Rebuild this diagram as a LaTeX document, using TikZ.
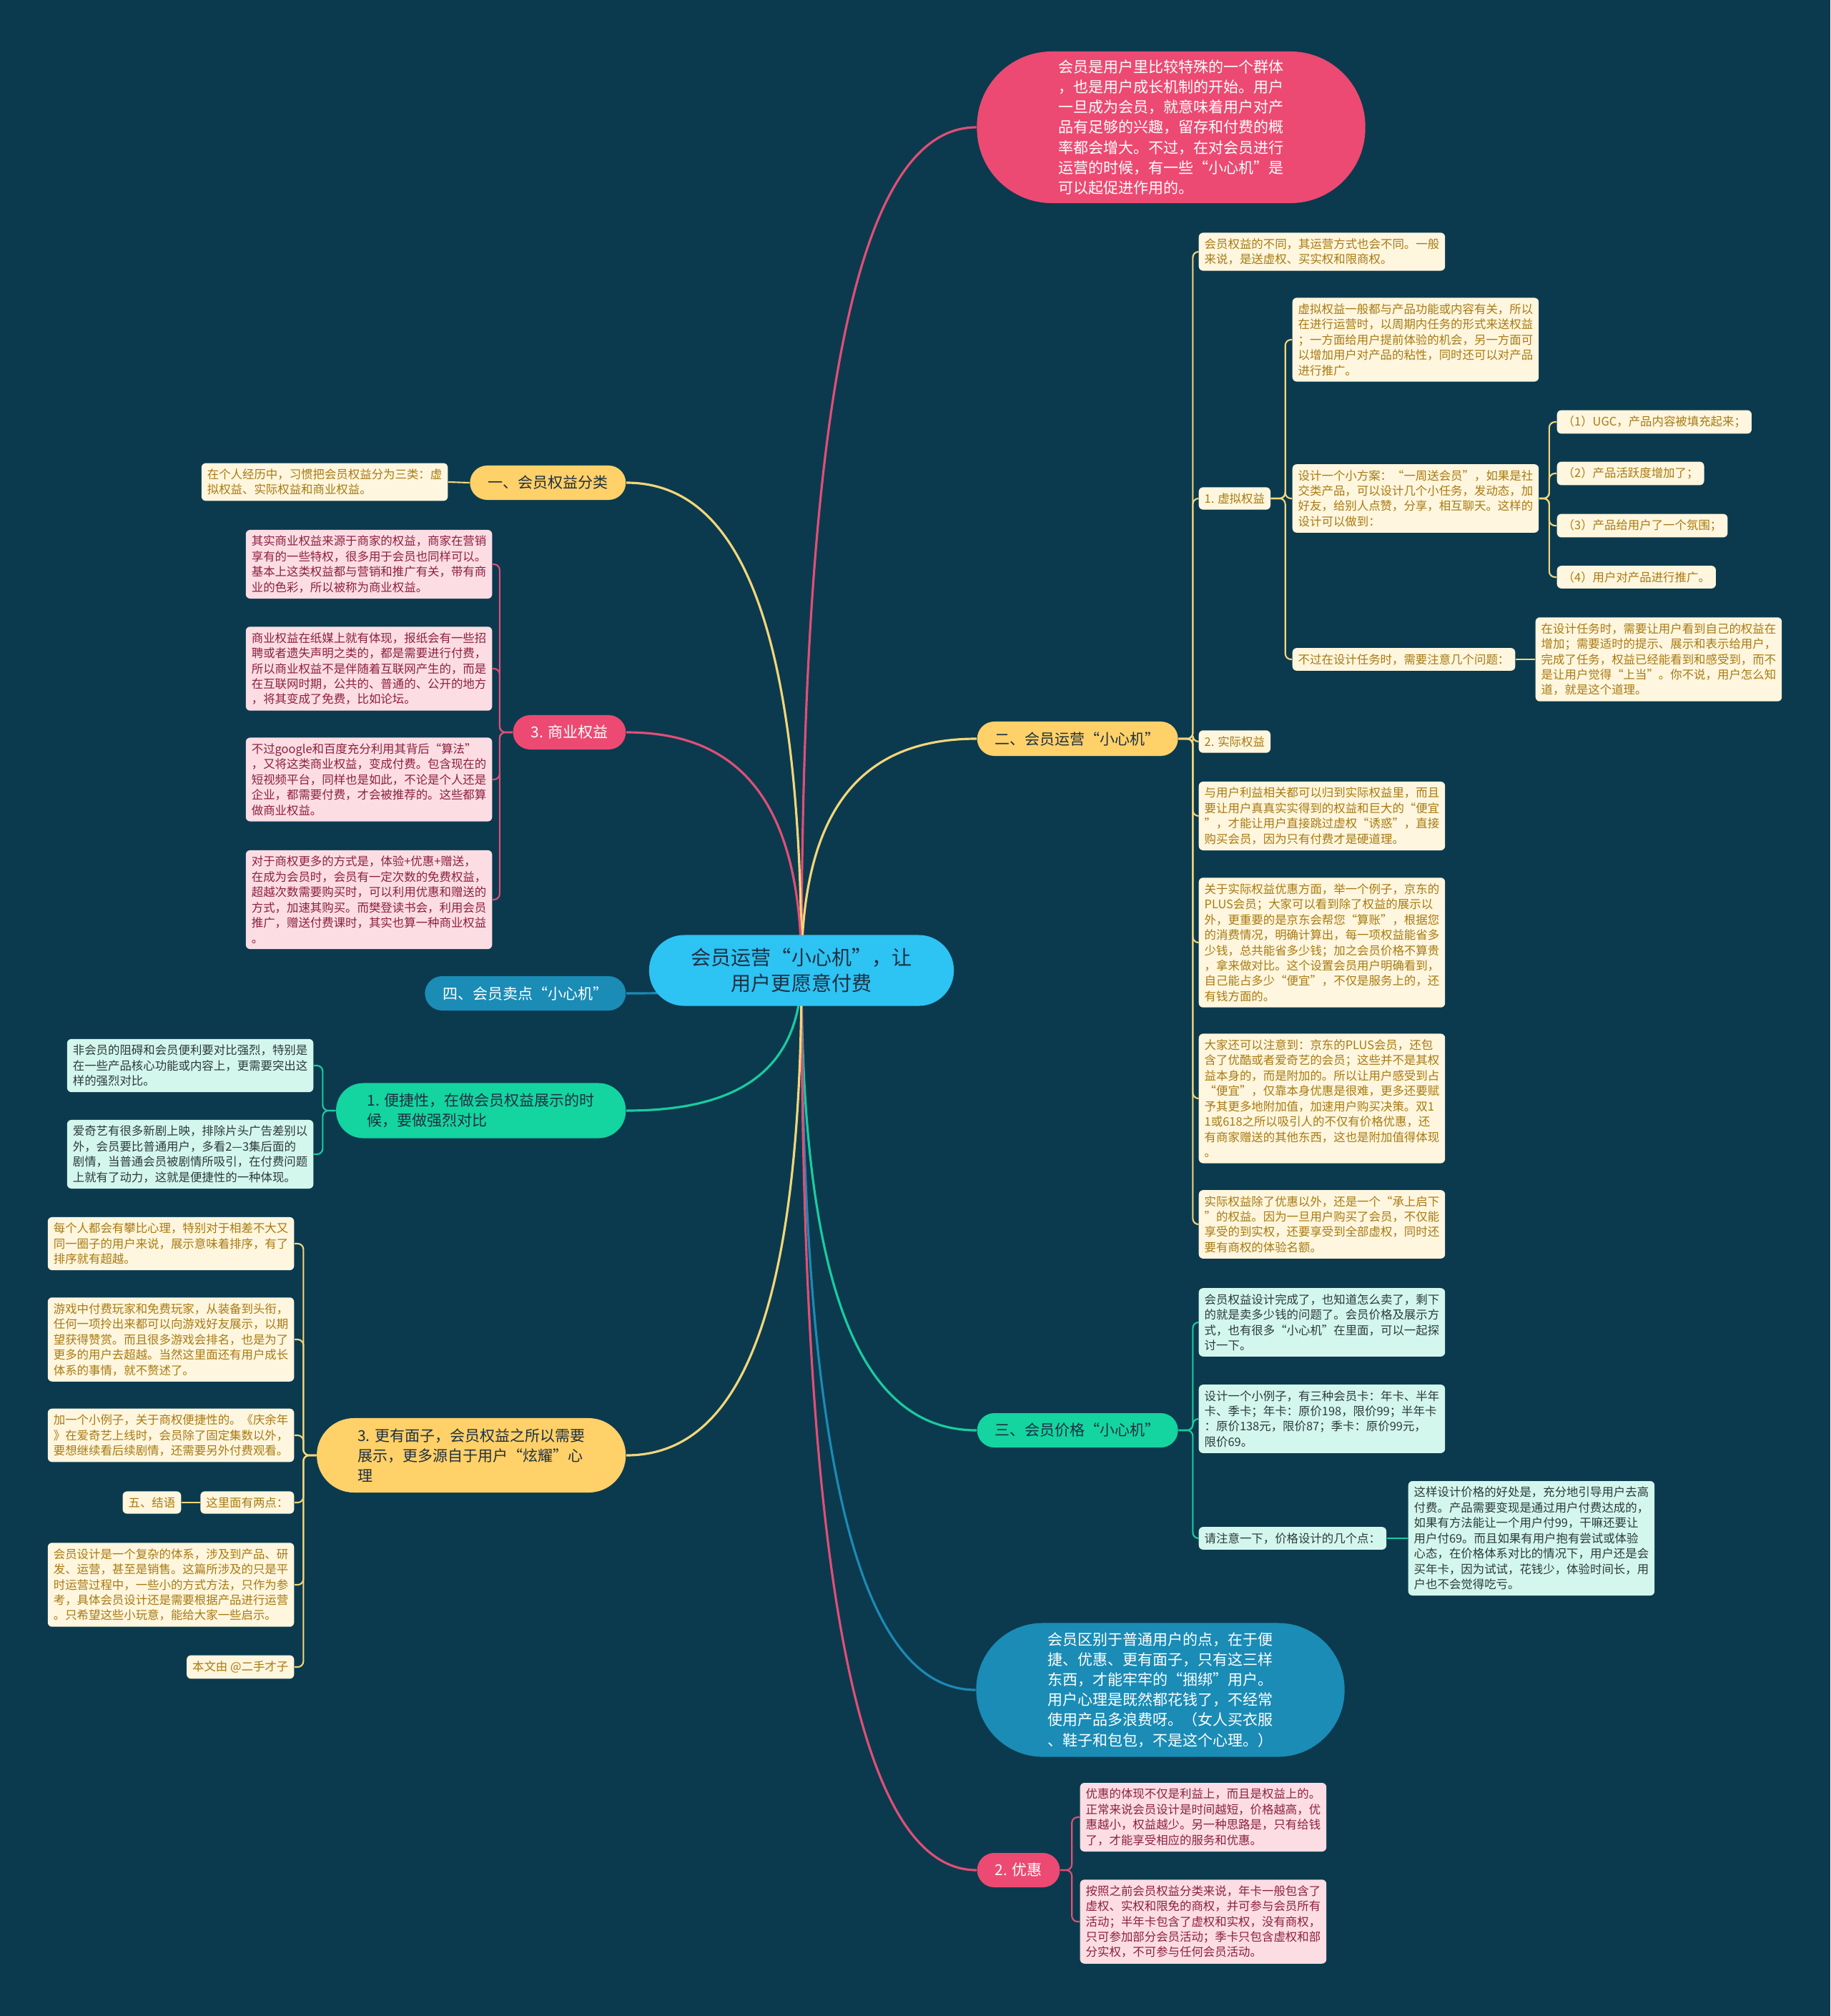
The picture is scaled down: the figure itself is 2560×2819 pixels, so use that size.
\documentclass[tikz,border=0pt]{standalone}
\usepackage{fontspec}
\setmainfont{Noto Sans CJK SC}
\usepackage{tikz}
\usetikzlibrary{calc}
\definecolor{bgc}{RGB}{11,58,78}
\definecolor{rootc}{RGB}{45,195,243}
\definecolor{inkc}{RGB}{30,48,66}
\definecolor{pinkc}{RGB}{236,74,114}
\definecolor{yelc}{RGB}{255,209,104}
\definecolor{grnc}{RGB}{20,212,160}
\definecolor{bluc}{RGB}{26,140,182}
\definecolor{yfill}{RGB}{254,246,222}
\definecolor{ytext}{RGB}{168,122,18}
\definecolor{pfill}{RGB}{252,221,228}
\definecolor{ptext}{RGB}{140,32,64}
\definecolor{gfill}{RGB}{212,247,237}
\definecolor{gtext}{RGB}{44,58,60}
\definecolor{yline}{RGB}{244,214,122}
\definecolor{pline}{RGB}{226,78,118}
\definecolor{gline}{RGB}{26,204,160}
\definecolor{bline}{RGB}{28,138,180}
\newcommand\leaffont{\fontsize{4.67pt}{6.1pt}\selectfont}
\newcommand\branchfont{\fontsize{5.97pt}{8pt}\selectfont}
\newcommand\ellfont{\fontsize{5.97pt}{8pt}\selectfont}
\newcommand\rootfont{\fontsize{7.97pt}{10.2pt}\selectfont}
\pgfdeclarelayer{bg}
\pgfdeclarelayer{edges}
\pgfsetlayers{bg,edges,main}

\begin{document}
\begin{tikzpicture}[x=0.01cm, y=-0.01cm,
    root/.style={fill=rootc, text=inkc, font=\rootfont, align=center, minimum width=4.26cm, minimum height=0.99cm, rounded corners=0.49cm},
    branch/.style={font=\branchfont, align=left, inner xsep=0.25cm, inner ysep=0pt, minimum height=0.48cm, rounded corners=0.24cm},
    ybranch/.style={branch, fill=yelc, text=inkc},
    pbranch/.style={branch, fill=pinkc, text=white},
    gbranch/.style={branch, fill=grnc, text=inkc},
    bbranch/.style={branch, fill=bluc, text=white},
    leaf/.style={font=\leaffont, align=left, inner xsep=0.08cm, inner ysep=0.08cm, rounded corners=0.06cm},
    yleaf/.style={leaf, fill=yfill, text=ytext},
    pleaf/.style={leaf, fill=pfill, text=ptext},
    gleaf/.style={leaf, fill=gfill, text=gtext},
    trunk/.style={line width=0.9pt, to path={.. controls ($(\tikztostart)!0.75!(\tikztostart|-\tikztotarget)$) and ($(\tikztotarget)!0.6!(\tikztostart|-\tikztotarget)$) .. (\tikztotarget)}},
    twig/.style={line width=0.6pt, rounded corners=0.08cm}]
  \useasboundingbox (0,0) rectangle (2560,2819);
  \begin{pgfonlayer}{bg}
    \fill[bgc] (0,0) rectangle (2560,2819);
  \end{pgfonlayer}

  \node[root] (root) at (1121,1357) {会员运营“小心机”，让\\用户更愿意付费};

  % right side
  \node[pbranch, font=\ellfont, minimum width=5.43cm, minimum height=2.12cm, rounded corners=1.05cm] (intro) at (1638,178) {会员是用户里比较特殊的一个群体\\，也是用户成长机制的开始。用户\\一旦成为会员，就意味着用户对产\\品有足够的兴趣，留存和付费的概\\率都会增大。不过，在对会员进行\\运营的时候，有一些“小心机”是\\可以起促进作用的。};
  \node[ybranch, anchor=west] (ops) at (1366,1033) {二、会员运营“小心机”};
  \node[gbranch, anchor=west] (price) at (1366,2000) {三、会员价格“小心机”};
  \node[bbranch, font=\ellfont, minimum width=5.15cm, minimum height=1.87cm, rounded corners=0.93cm] (bind) at (1623,2363) {会员区别于普通用户的点，在于便\\捷、优惠、更有面子，只有这三样\\东西，才能牢牢的“捆绑”用户。\\用户心理是既然都花钱了，不经常\\使用产品多浪费呀。（女人买衣服\\、鞋子和包包，不是这个心理。）};
  \node[pbranch, anchor=west] (disc) at (1366,2615) {2. 优惠};

  \node[yleaf, anchor=west] (opsA) at (1676,352) {会员权益的不同，其运营方式也会不同。一般\\来说，是送虚权、买实权和限商权。};
  \node[yleaf, anchor=west] (virt) at (1676,697) {1. 虚拟权益};
  \node[yleaf, anchor=west] (virtA) at (1807,475) {虚拟权益一般都与产品功能或内容有关，所以\\在进行运营时，以周期内任务的形式来送权益\\；一方面给用户提前体验的机会，另一方面可\\以增加用户对产品的粘性，同时还可以对产品\\进行推广。};
  \node[yleaf, anchor=west] (virtB) at (1807,697) {设计一个小方案：“一周送会员”，如果是社\\交类产品，可以设计几个小任务，发动态，加\\好友，给别人点赞，分享，相互聊天。这样的\\设计可以做到：};
  \node[yleaf, anchor=west] (gain1) at (2177,590) {（1）UGC，产品内容被填充起来；};
  \node[yleaf, anchor=west] (gain2) at (2177,662) {（2）产品活跃度增加了；};
  \node[yleaf, anchor=west] (gain3) at (2177,735) {（3）产品给用户了一个氛围；};
  \node[yleaf, anchor=west] (gain4) at (2177,807) {（4）用户对产品进行推广。};
  \node[yleaf, anchor=west] (virtC) at (1807,922) {不过在设计任务时，需要注意几个问题：};
  \node[yleaf, anchor=west] (virtD) at (2147,922) {在设计任务时，需要让用户看到自己的权益在\\增加；需要适时的提示、展示和表示给用户，\\完成了任务，权益已经能看到和感受到，而不\\是让用户觉得“上当”。你不说，用户怎么知\\道，就是这个道理。};
  \node[yleaf, anchor=west] (real) at (1676,1037) {2. 实际权益};
  \node[yleaf, anchor=west] (realA) at (1676,1141) {与用户利益相关都可以归到实际权益里，而且\\要让用户真真实实得到的权益和巨大的“便宜\\”，才能让用户直接跳过虚权“诱惑”，直接\\购买会员，因为只有付费才是硬道理。};
  \node[yleaf, anchor=west] (realB) at (1676,1318) {关于实际权益优惠方面，举一个例子，京东的\\PLUS会员；大家可以看到除了权益的展示以\\外，更重要的是京东会帮您“算账”，根据您\\的消费情况，明确计算出，每一项权益能省多\\少钱，总共能省多少钱；加之会员价格不算贵\\，拿来做对比。这个设置会员用户明确看到，\\自己能占多少“便宜”，不仅是服务上的，还\\有钱方面的。};
  \node[yleaf, anchor=west] (realC) at (1676,1536) {大家还可以注意到：京东的PLUS会员，还包\\含了优酷或者爱奇艺的会员；这些并不是其权\\益本身的，而是附加的。所以让用户感受到占\\“便宜”，仅靠本身优惠是很难，更多还要赋\\予其更多地附加值，加速用户购买决策。双1\\1或618之所以吸引人的不仅有价格优惠，还\\有商家赠送的其他东西，这也是附加值得体现\\。};
  \node[yleaf, anchor=west] (realD) at (1676,1712) {实际权益除了优惠以外，还是一个“承上启下\\”的权益。因为一旦用户购买了会员，不仅能\\享受的到实权，还要享受到全部虚权，同时还\\要有商权的体验名额。};

  \node[gleaf, anchor=west] (priceA) at (1676,1849) {会员权益设计完成了，也知道怎么卖了，剩下\\的就是卖多少钱的问题了。会员价格及展示方\\式，也有很多“小心机”在里面，可以一起探\\讨一下。};
  \node[gleaf, anchor=west] (priceB) at (1676,1984) {设计一个小例子，有三种会员卡：年卡、半年\\卡、季卡；年卡：原价198，限价99；半年卡\\：原价138元，限价87；季卡：原价99元，\\限价69。};
  \node[gleaf, anchor=west] (priceC) at (1676,2151) {请注意一下，价格设计的几个点：};
  \node[gleaf, anchor=west] (priceD) at (1969,2151) {这样设计价格的好处是，充分地引导用户去高\\付费。产品需要变现是通过用户付费达成的，\\如果有方法能让一个用户付99，干嘛还要让\\用户付69。而且如果有用户抱有尝试或体验\\心态，在价格体系对比的情况下，用户还是会\\买年卡，因为试试，花钱少，体验时间长，用\\户也不会觉得吃亏。};

  \node[pleaf, anchor=west] (discA) at (1510,2541) {优惠的体现不仅是利益上，而且是权益上的。\\正常来说会员设计是时间越短，价格越高，优\\惠越小，权益越少。另一种思路是，只有给钱\\了，才能享受相应的服务和优惠。};
  \node[pleaf, anchor=west] (discB) at (1510,2687) {按照之前会员权益分类来说，年卡一般包含了\\虚权、实权和限免的商权，并可参与会员所有\\活动；半年卡包含了虚权和实权，没有商权，\\只可参加部分会员活动；季卡只包含虚权和部\\分实权，不可参与任何会员活动。};

  % left side
  \node[ybranch, anchor=east] (cls) at (876,675) {一、会员权益分类};
  \node[pbranch, anchor=east] (biz) at (876,1024) {3. 商业权益};
  \node[bbranch, anchor=east] (sell) at (876,1389) {四、会员卖点“小心机”};
  \node[gbranch, anchor=east, minimum width=4.05cm, minimum height=0.77cm, rounded corners=0.38cm] (quick) at (876,1553) {1. 便捷性，在做会员权益展示的时\\候，要做强烈对比};
  \node[ybranch, anchor=east, minimum width=4.32cm, minimum height=1.04cm, rounded corners=0.52cm] (face) at (876,2035) {3. 更有面子，会员权益之所以需要\\展示，更多源自于用户“炫耀”心\\理};

  \node[yleaf, anchor=east] (clsA) at (627,674) {在个人经历中，习惯把会员权益分为三类：虚\\拟权益、实际权益和商业权益。};
  \node[pleaf, anchor=east] (bizA) at (689,789) {其实商业权益来源于商家的权益，商家在营销\\享有的一些特权，很多用于会员也同样可以。\\基本上这类权益都与营销和推广有关，带有商\\业的色彩，所以被称为商业权益。};
  \node[pleaf, anchor=east] (bizB) at (689,935) {商业权益在纸媒上就有体现，报纸会有一些招\\聘或者遗失声明之类的，都是需要进行付费，\\所以商业权益不是伴随着互联网产生的，而是\\在互联网时期，公共的、普通的、公开的地方\\，将其变成了免费，比如论坛。};
  \node[pleaf, anchor=east] (bizC) at (689,1090) {不过google和百度充分利用其背后“算法”\\，又将这类商业权益，变成付费。包含现在的\\短视频平台，同样也是如此，不论是个人还是\\企业，都需要付费，才会被推荐的。这些都算\\做商业权益。};
  \node[pleaf, anchor=east] (bizD) at (689,1258) {对于商权更多的方式是，体验+优惠+赠送，\\在成为会员时，会员有一定次数的免费权益，\\超越次数需要购买时，可以利用优惠和赠送的\\方式，加速其购买。而樊登读书会，利用会员\\推广，赠送付费课时，其实也算一种商业权益\\。};
  \node[gleaf, anchor=east] (quickA) at (439,1490) {非会员的阻碍和会员便利要对比强烈，特别是\\在一些产品核心功能或内容上，更需要突出这\\样的强烈对比。};
  \node[gleaf, anchor=east] (quickB) at (439,1614) {爱奇艺有很多新剧上映，排除片头广告差别以\\外，会员要比普通用户，多看2—3集后面的\\剧情，当普通会员被剧情所吸引，在付费问题\\上就有了动力，这就是便捷性的一种体现。};
  \node[yleaf, anchor=east] (faceA) at (412,1739) {每个人都会有攀比心理，特别对于相差不大又\\同一圈子的用户来说，展示意味着排序，有了\\排序就有超越。};
  \node[yleaf, anchor=east] (faceB) at (412,1873) {游戏中付费玩家和免费玩家，从装备到头衔，\\任何一项拎出来都可以向游戏好友展示，以期\\望获得赞赏。而且很多游戏会排名，也是为了\\更多的用户去超越。当然这里面还有用户成长\\体系的事情，就不赘述了。};
  \node[yleaf, anchor=east] (faceC) at (412,2007) {加一个小例子，关于商权便捷性的。《庆余年\\》在爱奇艺上线时，会员除了固定集数以外，\\要想继续看后续剧情，还需要另外付费观看。};
  \node[yleaf, anchor=east] (faceD) at (412,2101) {这里面有两点：};
  \node[yleaf, anchor=east] (ending) at (254,2101) {五、结语};
  \node[yleaf, anchor=east] (faceE) at (412,2216) {会员设计是一个复杂的体系，涉及到产品、研\\发、运营，甚至是销售。这篇所涉及的只是平\\时运营过程中，一些小的方式方法，只作为参\\考，具体会员设计还是需要根据产品进行运营\\。只希望这些小玩意，能给大家一些启示。};
  \node[yleaf, anchor=east] (faceF) at (412,2331) {本文由 @二手才子};

  \begin{pgfonlayer}{edges}
    \draw[trunk, pline] (root.center) to (intro.west);
    \draw[trunk, yline] (root.center) to (ops.west);
    \draw[trunk, gline] (root.center) to (price.west);
    \draw[trunk, bline] (root.center) to (bind.west);
    \draw[trunk, pline] (root.center) to (disc.west);
    \draw[trunk, yline] (root.center) to (cls.east);
    \draw[trunk, pline] (root.center) to (biz.east);
    \draw[trunk, bline] (root.center) to (sell.east);
    \draw[trunk, gline] (root.center) to (quick.east);
    \draw[trunk, yline] (root.center) to (face.east);
    \foreach \n in {opsA,virt,real,realA,realB,realC,realD}
      \draw[twig, yline] (ops.east) -- ++(20,0) |- (\n.west);
    \foreach \n in {virtA,virtB,virtC}
      \draw[twig, yline] (virt.east) -- ++(20,0) |- (\n.west);
    \foreach \n in {gain1,gain2,gain3,gain4}
      \draw[twig, yline] (virtB.east) -- ++(14,0) |- (\n.west);
    \draw[twig, yline] (virtC.east) -- (virtD.west);
    \foreach \n in {priceA,priceB,priceC}
      \draw[twig, gline] (price.east) -- ++(20,0) |- (\n.west);
    \draw[twig, gline] (priceC.east) -- (priceD.west);
    \foreach \n in {discA,discB}
      \draw[twig, pline] (disc.east) -- ++(16,0) |- (\n.west);
    \draw[twig, yline] (cls.west) -- (clsA.east);
    \foreach \n in {bizA,bizB,bizC,bizD}
      \draw[twig, pline] (biz.west) -- ++(-18,0) |- (\n.east);
    \foreach \n in {quickA,quickB}
      \draw[twig, gline] (quick.west) -- ++(-18,0) |- (\n.east);
    \foreach \n in {faceA,faceB,faceC,faceD,faceE,faceF}
      \draw[twig, yline] (face.west) -- ++(-18,0) |- (\n.east);
    \draw[twig, yline] (faceD.west) -- (ending.east);
  \end{pgfonlayer}
\end{tikzpicture}
\end{document}
